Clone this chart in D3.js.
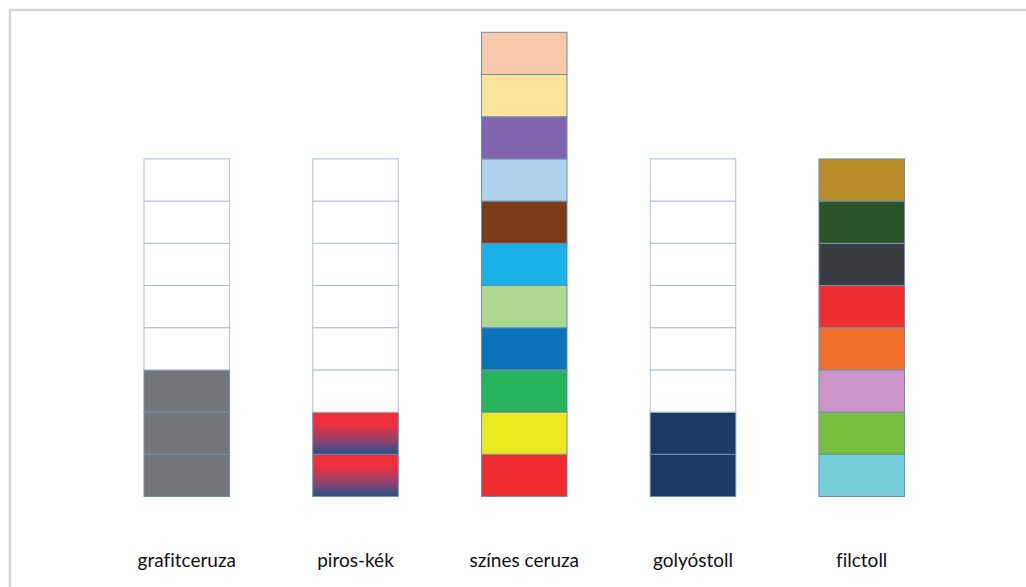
<!DOCTYPE html>
<html>
<head>
<meta charset="utf-8">
<script src="https://cdn.jsdelivr.net/npm/d3@7"></script>
<style>
  html, body { margin: 0; padding: 0; background: #fff; }
  svg { display: block; }
</style>
</head>
<body>
<svg id="chart" width="1026" height="587"></svg>
<script>
// Writing tools and how many unit blocks each column holds
const categories = ["grafitceruza", "piros-kék", "színes ceruza", "golyóstoll", "filctoll"];
const totals = [8, 8, 11, 8, 8];

// Fill of each block, listed bottom-up; "none" means an empty (white) block
const grafitBlocks = ["grafit", "grafit", "grafit", "none", "none", "none", "none", "none"];
const pirosKekBlocks = ["redblue", "redblue", "none", "none", "none", "none", "none", "none"];
const szinesBlocks = ["#ee2e31", "#ebe81f", "#27b35b", "#0b72bb", "#aed791", "#1ab1e6",
                      "#7e3b17", "#afd3ea", "#8065ae", "#fde39a", "#f8c8a8"];
const golyosBlocks = ["#1a3a64", "#1a3a64", "none", "none", "none", "none", "none", "none"];
const filcBlocks = ["#79cfdd", "#78bf40", "#cd95c7", "#f26e2b", "#ed2f32", "#383c41", "#2d5428", "#b78b2a"];

const blockLists = [grafitBlocks, pirosKekBlocks, szinesBlocks, golyosBlocks, filcBlocks];

const svg = d3.select("#chart");

// Light outer frame
svg.append("rect")
  .attr("x", 10).attr("y", 10)
  .attr("width", 1030).attr("height", 600)
  .attr("fill", "none")
  .attr("stroke", "#d4d4d4")
  .attr("stroke-width", 2.5);

const defs = svg.append("defs");
const grad = defs.append("linearGradient")
  .attr("id", "redblue")
  .attr("x1", 0).attr("y1", 0).attr("x2", 0).attr("y2", 1);
grad.append("stop").attr("offset", "0%").attr("stop-color", "#ef2f33");
grad.append("stop").attr("offset", "30%").attr("stop-color", "#ec3040");
grad.append("stop").attr("offset", "70%").attr("stop-color", "#8a4270");
grad.append("stop").attr("offset", "100%").attr("stop-color", "#24528a");

const x = d3.scaleBand()
  .domain(categories)
  .range([102.5, 946])
  .paddingInner(0.493)
  .paddingOuter(0.246);

const y = d3.scaleLinear()
  .domain([0, 11])
  .range([496.5, 32.3]);

const fillOf = f => f === "none" ? "#ffffff" : f === "grafit" ? "#75787b" : f === "redblue" ? "url(#redblue)" : f;

categories.forEach((cat, ci) => {
  const blocks = blockLists[ci].slice(0, totals[ci]).map((f, i) => ({ f, i }));
  const g = svg.append("g");
  g.selectAll("rect")
    .data(blocks)
    .join("rect")
    .attr("x", x(cat))
    .attr("width", x.bandwidth())
    .attr("y", d => y(d.i + 1))
    .attr("height", d => y(d.i) - y(d.i + 1))
    .attr("fill", d => fillOf(d.f))
    .attr("stroke", d => d.f === "none" ? "#a9c0da" : "#6f8fb3")
    .attr("stroke-width", 1);
});

// Category labels under the columns
svg.append("g")
  .selectAll("text")
  .data(categories)
  .join("text")
  .attr("x", d => x(d) + x.bandwidth() / 2)
  .attr("y", 567)
  .attr("text-anchor", "middle")
  .attr("font-family", "Lato, 'Open Sans', sans-serif")
  .attr("font-size", 19)
  .style("font-variant-ligatures", "none")
  .attr("fill", "#111")
  .text(d => d);
</script>
</body>
</html>
